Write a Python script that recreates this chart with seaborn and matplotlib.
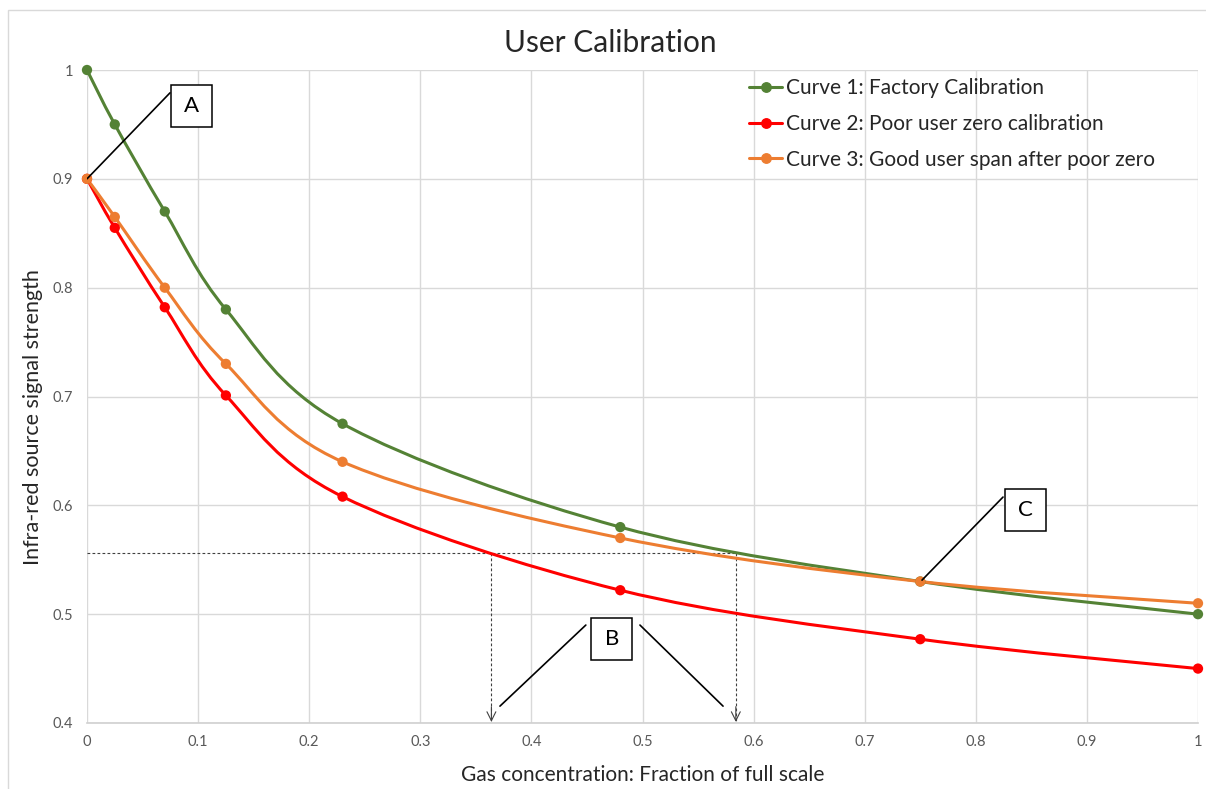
import numpy as np
import pandas as pd
import matplotlib
matplotlib.use("Agg")
import matplotlib.pyplot as plt
import seaborn as sns
from matplotlib.path import Path
from matplotlib.patches import PathPatch, Rectangle
from matplotlib.lines import Line2D

# ---------------- data ----------------
x_vals = [0.0, 0.025, 0.07, 0.125, 0.23, 0.48, 0.75, 1.0]
curve1 = [1.0, 0.95, 0.87, 0.78, 0.675, 0.58, 0.53, 0.50]
curve2 = [0.9, 0.855, 0.782, 0.701, 0.608, 0.522, 0.477, 0.45]
curve3 = [0.9, 0.865, 0.80, 0.73, 0.64, 0.57, 0.53, 0.51]
series_names = ["Curve 1: Factory Calibration",
                "Curve 2: Poor user zero calibration",
                "Curve 3: Good user span after poor zero"]
series_colors = ["#548235", "#FF0000", "#ED7D31"]
x_ticks = [0, 0.1, 0.2, 0.3, 0.4, 0.5, 0.6, 0.7, 0.8, 0.9, 1.0]
x_tick_labels = ["0", "0.1", "0.2", "0.3", "0.4", "0.5", "0.6", "0.7", "0.8", "0.9", "1"]
y_ticks = [0.4, 0.5, 0.6, 0.7, 0.8, 0.9, 1.0]
y_tick_labels = ["0.4", "0.5", "0.6", "0.7", "0.8", "0.9", "1"]

# reading lines (B)
read_level = 0.556
read_x = [0.364, 0.584]

# callouts: label, box centre, line start, line end
callouts = [
    ("A", (0.0945, 0.967), [((0.0, 0.9), (0.0747, 0.979))]),
    ("B", (0.4725, 0.477), [((0.3717, 0.4155), (0.449, 0.490)),
                            ((0.4977, 0.490), (0.5725, 0.4155))]),
    ("C", (0.845, 0.5956), [((0.7516, 0.5313), (0.8245, 0.6076))]),
]

df = pd.DataFrame({
    "x": x_vals * 3,
    "y": curve1 + curve2 + curve3,
    "series": sum([[n] * len(x_vals) for n in series_names], []),
})

# ---------------- style ----------------
sns.set_theme(style="white")
plt.rcParams["font.family"] = ["Lato", "DejaVu Sans"]

W, H = 1206, 789
fig = plt.figure(figsize=(W / 100, H / 100), dpi=100)
ax = fig.add_axes([87 / W, 1 - 723 / H, (1198 - 87) / W, (723 - 70) / H])

# outer chart frame
fig.patches.append(Rectangle((8 / W, -0.1), 1.2, 1 - 10 / H + 0.1,
                             transform=fig.transFigure, fill=False,
                             edgecolor="#D9D9D9", lw=1.0, zorder=-5))


def smooth_path(xs, ys):
    pts = np.column_stack([xs, ys])
    n = len(pts)
    verts = [pts[0]]
    codes = [Path.MOVETO]
    for i in range(n - 1):
        p0 = pts[i - 1] if i > 0 else pts[i]
        p1 = pts[i]
        p2 = pts[i + 1]
        p3 = pts[i + 2] if i + 2 < n else pts[i + 1]
        c1 = p1 + (p2 - p0) / 6.0
        c2 = p2 - (p3 - p1) / 6.0
        verts += [c1, c2, p2]
        codes += [Path.CURVE4] * 3
    return Path(verts, codes)


for name, col in zip(series_names, series_colors):
    sub = df[df["series"] == name]
    ax.add_patch(PathPatch(smooth_path(sub["x"].values, sub["y"].values),
                           facecolor="none", edgecolor=col, lw=2.2,
                           capstyle="round", joinstyle="round", zorder=3))

sns.scatterplot(data=df, x="x", y="y", hue="series", palette=series_colors,
                s=55, edgecolor=None, linewidth=0, legend=False, ax=ax,
                zorder=4, clip_on=False)

# reading dashed lines
ax.plot([0, read_x[1]], [read_level, read_level], color="#404040",
        lw=0.8, ls=(0, (2.5, 2)), zorder=2)
for xv in read_x:
    ax.plot([xv, xv], [read_level, 0.402], color="#404040", lw=0.8,
            ls=(0, (2.5, 2)), zorder=2)
    ax.annotate("", xy=(xv, 0.401), xytext=(xv, 0.415),
                arrowprops=dict(arrowstyle="->", color="#404040", lw=0.8,
                                mutation_scale=16, shrinkA=0, shrinkB=0))

# callouts (boxes of fixed pixel size around the letter)
px_x = 1.0 / (1198 - 87)
px_y = 0.6 / (723 - 70)
bw, bh = 41 * px_x, 42 * px_y
for label, (cx, cy), lines in callouts:
    for (x0, y0), (x1, y1) in lines:
        ax.plot([x0, x1], [y0, y1], color="black", lw=1.2, zorder=5)
    ax.add_patch(Rectangle((cx - bw / 2, cy - bh / 2), bw, bh,
                           facecolor="white", edgecolor="black", lw=1.1,
                           zorder=6))
    ax.text(cx, cy, label, ha="center", va="center", fontsize=16,
            color="black", zorder=7)

# axes
ax.set_xlim(0, 1)
ax.set_ylim(0.4, 1.0)
ax.set_xticks(x_ticks)
ax.set_xticklabels(x_tick_labels)
ax.set_yticks(y_ticks)
ax.set_yticklabels(y_tick_labels)
ax.grid(True, color="#D9D9D9", lw=1.0)
ax.set_axisbelow(True)
for sp in ["top", "right", "left"]:
    ax.spines[sp].set_visible(False)
ax.spines["bottom"].set_color("#D0D0D0")
ax.spines["bottom"].set_linewidth(1.2)
ax.tick_params(axis="both", length=0, labelsize=10.5, labelcolor="#595959")
ax.tick_params(axis="x", pad=9)
ax.tick_params(axis="y", pad=10)

ax.set_xlabel("Gas concentration: Fraction of full scale", fontsize=15,
              color="#262626", labelpad=11)
ax.set_ylabel("Infra-red source signal strength", fontsize=15.5,
              color="#262626")
ax.yaxis.set_label_coords((43 - 87) / (1198 - 87), (723 - 417) / (723 - 70))
fig.text(610 / W, 1 - 43 / H, "User Calibration", ha="center",
         va="center", fontsize=21.5, color="#262626")

handles = [Line2D([0], [0], color=c, lw=2.2, marker="o", markersize=6.8)
           for c in series_colors]
leg = fig.legend(handles, series_names, loc="upper left",
                 bbox_to_anchor=(749 / W, 1 - 78 / H), frameon=False,
                 fontsize=15, handlelength=1.6, handletextpad=0.2,
                 labelspacing=0.76, borderpad=0, borderaxespad=0)
for t in leg.get_texts():
    t.set_color("#262626")

fig.savefig("out.png", dpi=100)
